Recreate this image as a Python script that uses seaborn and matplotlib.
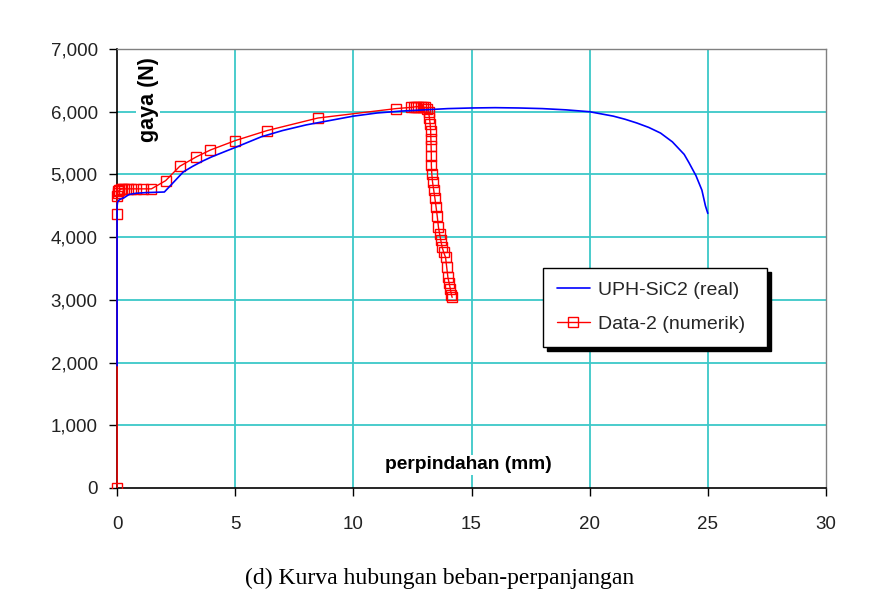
import matplotlib
matplotlib.use("Agg")
import matplotlib.pyplot as plt
import seaborn as sns
import pandas as pd
from matplotlib.ticker import FuncFormatter
from matplotlib.transforms import Bbox, TransformedBbox

# ---- data ----
real_label = "UPH-SiC2 (real)"
num_label = "Data-2 (numerik)"

blue_x = [0, 0, 0.02, 0.1, 0.3, 0.5, 0.8, 1.2, 1.6, 2.0, 2.2, 2.5, 2.8, 3.2, 3.6, 4.0,
          4.66, 5.0, 6.1, 7.0, 8.0, 9.0, 10.0, 11.0, 12.0, 13.0, 14.0, 15.0, 16.0, 17.0,
          18.0, 19.0, 20.0, 21.0, 21.5, 22.0, 22.5, 23.0, 23.5, 24.0, 24.2, 24.5, 24.75,
          24.9, 25.0]
blue_y = [1950, 4500, 4560, 4600, 4630, 4680, 4700, 4710, 4715, 4720, 4800, 4920, 5040,
          5130, 5210, 5280, 5380, 5430, 5600, 5700, 5790, 5860, 5930, 5980, 6010, 6030,
          6050, 6060, 6065, 6060, 6050, 6030, 6000, 5930, 5880, 5820, 5750, 5660, 5520,
          5320, 5190, 4980, 4750, 4500, 4380]

red_x = [0, 0, 0, 0.02, 0.05, 0.1, 0.15, 0.2, 0.3, 0.45, 0.6, 0.8, 1.1, 1.45, 2.05, 2.65,
         3.35, 3.95, 5.0, 6.35, 8.5, 11.8, 12.45, 12.55, 12.65, 12.75, 12.85, 12.95,
         13.05, 13.12, 13.18, 13.22, 13.25, 13.27, 13.28, 13.29, 13.3, 13.3, 13.32, 13.35,
         13.4, 13.45, 13.5, 13.55, 13.6, 13.65, 13.7, 13.75, 13.82, 13.9, 13.95, 14.0,
         14.05, 14.1, 14.15, 14.18]
red_y = [0, 4370, 4650, 4700, 4730, 4750, 4760, 4770, 4770, 4770, 4770, 4770, 4770, 4770,
         4900, 5130, 5280, 5390, 5540, 5700, 5900, 6050, 6070, 6075, 6080, 6080, 6080,
         6075, 6070, 6050, 6000, 5900, 5800, 5700, 5570, 5450, 5300, 5150, 5000, 4880,
         4750, 4620, 4480, 4330, 4160, 4050, 3950, 3850, 3760, 3680, 3520, 3360, 3270,
         3180, 3080, 3040]

x_ticks = [0, 5, 10, 15, 20, 25, 30]
y_ticks = [0, 1000, 2000, 3000, 4000, 5000, 6000, 7000]

x_title = "perpindahan (mm)"
y_title = "gaya (N)"
caption = "(d) Kurva hubungan beban-perpanjangan"

# ---- plot ----
sns.set_style("white")
plt.rcParams['font.family'] = ['Liberation Sans', 'DejaVu Sans']

fig = plt.figure(figsize=(8.74, 5.98), dpi=100)
ax = fig.add_axes([0.134, 0.184, 0.811, 0.734])

df_real = pd.DataFrame({"x": blue_x, "y": blue_y})
df_num = pd.DataFrame({"x": red_x, "y": red_y})

grid_c = "#3cc8c8"
for xv in x_ticks[1:-1]:
    ax.axvline(xv, color=grid_c, lw=1.3, zorder=0.5)
for yv in y_ticks[1:-1]:
    ax.axhline(yv, color=grid_c, lw=1.3, zorder=0.5)

sns.lineplot(data=df_num, x="x", y="y", sort=False, estimator=None, ax=ax,
             color="#ff0000", lw=1.0, marker="s", markersize=6.5,
             markerfacecolor="none", markeredgecolor="#ff0000", markeredgewidth=1.0,
             zorder=3, label=num_label)
sns.lineplot(data=df_real, x="x", y="y", sort=False, estimator=None, ax=ax,
             color="#0000ff", lw=1.2, zorder=3.1, label=real_label)

ax.set_xlim(0, 30)
ax.set_ylim(0, 7000)

clip = TransformedBbox(Bbox([[-0.02, 0.0], [1.0, 1.0]]), ax.transAxes)
for ln in ax.lines:
    ln.set_clip_box(clip)

ax.set_xticks(x_ticks)
ax.set_yticks(y_ticks)
ax.yaxis.set_major_formatter(FuncFormatter(lambda v, p: f"{int(v):,}"))
ax.set_xlabel("")
ax.set_ylabel("")
ax.tick_params(axis="both", which="major", direction="out", length=6, width=1,
               color="black", labelsize=13.5, labelcolor="#222222")
ax.tick_params(axis="x", pad=14)
ax.tick_params(axis="y", pad=8)
ax.xaxis.set_ticks_position("bottom")
ax.yaxis.set_ticks_position("left")

for s in ["left", "bottom"]:
    ax.spines[s].set_color("black")
    ax.spines[s].set_linewidth(1.2)
for s in ["top", "right"]:
    ax.spines[s].set_color("#808080")
    ax.spines[s].set_linewidth(1.0)

# in-plot axis titles with white backgrounds
ax.text(14.85, 370, x_title, ha="center", va="center", fontsize=13.8,
        fontweight="bold", color="black", zorder=4,
        bbox=dict(facecolor="white", edgecolor="none", pad=1))
ax.text(1.31, 6190, y_title, ha="center", va="center", rotation=90, fontsize=15.5,
        fontweight="bold", color="black", zorder=4,
        bbox=dict(facecolor="white", edgecolor="none", pad=1))

handles, labels = ax.get_legend_handles_labels()
order = [labels.index(real_label), labels.index(num_label)]
leg = ax.legend([handles[i] for i in order], [labels[i] for i in order],
                loc="center", bbox_to_anchor=(0.601, 0.317, 0.316, 0.189),
                mode="expand", borderaxespad=0, fontsize=14, frameon=True,
                fancybox=False, edgecolor="black", framealpha=1, handlelength=1.7,
                handletextpad=0.4, labelspacing=0.85, borderpad=0.7,
                shadow={"color": "black", "alpha": 1, "ox": 3, "oy": -3})
leg.get_frame().set_linewidth(1.0)
leg.set_zorder(5)

fig.text(0.503, 1 - 578 / 598, caption, ha="center", va="center",
         fontsize=17, family="Liberation Serif", color="black")

fig.savefig("out.png", dpi=100)
